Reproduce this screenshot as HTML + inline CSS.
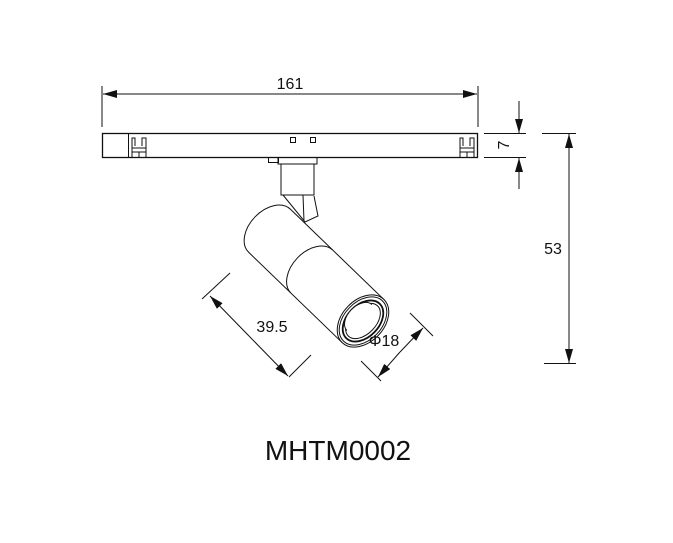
<!DOCTYPE html>
<html><head><meta charset="utf-8"><style>
html,body{margin:0;padding:0;background:#fff;}
svg{display:block;}
text{font-family:"Liberation Sans",sans-serif;fill:#111;}
</style></head><body>
<svg width="673" height="543" viewBox="0 0 673 543" xmlns="http://www.w3.org/2000/svg">
<defs>
<marker id="b" viewBox="0 0 14 8" refX="14" refY="4" markerWidth="14" markerHeight="8" orient="auto" markerUnits="userSpaceOnUse"><path d="M0,0 L14,4 L0,8 Z" fill="#111"/></marker>
</defs>
<g stroke="#111" stroke-width="1" fill="none">
<line x1="102" y1="86" x2="102" y2="127"/>
<line x1="478" y1="86" x2="478" y2="127"/>
<line x1="118" y1="94" x2="103" y2="94" marker-end="url(#b)"/>
<line x1="118" y1="94" x2="462" y2="94"/>
<line x1="462" y1="94" x2="477" y2="94" marker-end="url(#b)"/>
<rect x="102.5" y="133.5" width="375" height="24" stroke-width="1.3"/>
<line x1="128.5" y1="133" x2="128.5" y2="157"/>
<path d="M132,157 V138 H135 V146 M142,146 V138 H146 V157 M132,148 H146 M132,152 H146 M139,152 V157"/>
<path d="M460,157 V138 H463 V146 M470,146 V138 H474 V157 M460,148 H474 M460,152 H474 M467,152 V157"/>
<rect x="290.5" y="137.5" width="5" height="5"/>
<rect x="310.5" y="137.5" width="5" height="5"/>
<rect x="268.5" y="157.5" width="10" height="5"/>
<path d="M278,157 V164 H317 V157"/>
<path d="M281,164 V195 H314 V164"/>
<path d="M283,195 L305,222 L318,216 L314,196 M303,195 L304,221"/>
<g transform="translate(363,321) rotate(44)" fill="#fff">
<path d="M-130,-30 A20,30 0 0 0 -130,30 L0,30 L0,-30 Z"/>
<path d="M-71,-30 A20,30 0 0 0 -71,30"/>
<ellipse cx="0" cy="0" rx="21" ry="30"/>
<ellipse cx="0" cy="0" rx="19" ry="28"/>
<ellipse cx="0" cy="0" rx="16" ry="24" stroke-width="1.8"/>
<ellipse cx="0" cy="0" rx="13" ry="21"/>
<path d="M-5,-18 A10,16 0 0 0 -5,18" />
</g>
<line x1="202" y1="299" x2="230" y2="273"/>
<line x1="289" y1="377" x2="311" y2="355"/>
<line x1="249" y1="336" x2="210" y2="296" marker-end="url(#b)"/>
<line x1="249" y1="336" x2="288" y2="376" marker-end="url(#b)"/>
<line x1="410" y1="313" x2="433" y2="336"/>
<line x1="361" y1="361" x2="381" y2="381"/>
<line x1="400" y1="352" x2="423" y2="328" marker-end="url(#b)"/>
<line x1="400" y1="352" x2="378" y2="377" marker-end="url(#b)"/>
<line x1="484" y1="133.5" x2="526" y2="133.5"/>
<line x1="484" y1="157.5" x2="526" y2="157.5"/>
<line x1="519" y1="101" x2="519" y2="133" marker-end="url(#b)"/>
<line x1="519" y1="189" x2="519" y2="158" marker-end="url(#b)"/>
<line x1="542" y1="133.5" x2="576" y2="133.5"/>
<line x1="544" y1="363.5" x2="576" y2="363.5"/>
<line x1="569" y1="250" x2="569" y2="134" marker-end="url(#b)"/>
<line x1="569" y1="250" x2="569" y2="363" marker-end="url(#b)"/>
</g>
<text x="290" y="89" font-size="16" text-anchor="middle">161</text>
<text x="0" y="0" font-size="16" text-anchor="middle" transform="translate(509,145) rotate(-90)">7</text>
<text x="553" y="254" font-size="16" text-anchor="middle">53</text>
<text x="272" y="332" font-size="16" text-anchor="middle">39.5</text>
<text x="384" y="346" font-size="16" text-anchor="middle">Φ18</text>
<text x="338" y="460" font-size="28" text-anchor="middle">MHTM0002</text>
</svg>
</body></html>
